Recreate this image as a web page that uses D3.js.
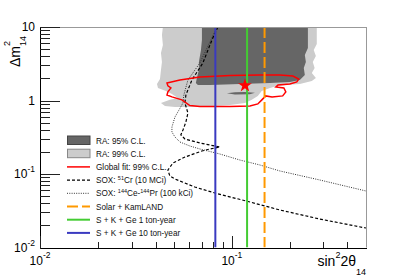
<!DOCTYPE html>
<html>
<head>
<meta charset="utf-8">
<script src="https://cdn.jsdelivr.net/npm/d3@7"></script>
<style>
body { margin: 0; background: #fff; }
svg { display: block; font-family: "Liberation Sans", Arial, sans-serif; }
</style>
</head>
<body>
<script>
// contours, points are [sin^2(2theta14), dm^2_14]
var ra99 = [[0.0437, 10], [0.277, 10], [0.277, 5.87], [0.267, 4.87], [0.274, 4.03], [0.264, 3.34],
    [0.27, 2.77], [0.261, 2.37], [0.274, 2.03], [0.261, 1.84], [0.226, 1.68], [0.189, 1.63],
    [0.1715, 1.58], [0.158, 1.48], [0.143, 1.35], [0.1365, 1.155], [0.127, 1.02], [0.117, 0.926],
    [0.0976, 0.87], [0.068, 0.818], [0.0505, 0.818], [0.0448, 0.84], [0.0427, 0.926], [0.0475, 1.02],
    [0.0523, 1.085], [0.0487, 1.23], [0.0453, 1.35], [0.0412, 1.48], [0.0407, 1.68], [0.0422, 1.96],
    [0.0427, 2.6], [0.0432, 3.34], [0.0427, 4.43], [0.0437, 5.69], [0.0432, 7.78]];
var ra95 = [[0.0698, 10], [0.249, 10], [0.249, 5.18], [0.240, 4.16], [0.243, 3.34], [0.237, 2.77],
    [0.240, 2.22], [0.226, 1.90], [0.2005, 1.79], [0.158, 1.73], [0.110, 1.68], [0.0768, 1.63],
    [0.0665, 1.63], [0.0649, 1.73], [0.0657, 2.03], [0.0673, 2.6], [0.0673, 3.34], [0.069, 4.87],
    [0.0698, 6.65]];
var ra95Island = [[0.0942, 1.257], [0.1037, 1.297], [0.1169, 1.31], [0.1318, 1.27], [0.1242, 1.214], [0.1037, 1.207]];
var globalFit99 = [[0.0459, 1.73], [0.0536, 1.90], [0.0681, 2.09], [0.0976, 2.19], [0.140, 2.22],
    [0.1778, 2.22], [0.208, 2.15], [0.223, 1.96], [0.218, 1.79], [0.2005, 1.68], [0.174, 1.63],
    [0.1695, 1.53], [0.1866, 1.48], [0.191, 1.31], [0.184, 1.155], [0.162, 1.12], [0.150, 1.155],
    [0.1433, 1.02], [0.1365, 0.898], [0.1242, 0.84], [0.0976, 0.83], [0.0681, 0.83], [0.0604, 0.855],
    [0.0549, 1.02], [0.0487, 1.12], [0.0459, 1.19], [0.0464, 1.31], [0.0481, 1.48], [0.0464, 1.58]];
var bestFit = [0.117, 1.6];
var soxCr = [[0.0845, 10], [0.0787, 6.65], [0.0706, 3.24], [0.0619, 1.90], [0.0576, 1.19], [0.0569, 0.926],
    [0.059, 0.676], [0.0576, 0.51], [0.0556, 0.397], [0.0542, 0.34], [0.0569, 0.2995], [0.0681, 0.264],
    [0.0866, 0.233], [0.0768, 0.219], [0.0698, 0.2056], [0.0569, 0.170], [0.0493, 0.141], [0.0464, 0.1133],
    [0.0475, 0.0939], [0.0505, 0.0855], [0.0641, 0.0665], [0.0816, 0.0551], [0.1242, 0.0416],
    [0.1778, 0.0324], [0.287, 0.0244], [0.5, 0.0184]];
var soxCePr = [[0.0836, 10], [0.0777, 6.65], [0.0681, 3.24], [0.059, 1.90], [0.0562, 1.19], [0.0556, 0.926],
    [0.0523, 0.698], [0.0505, 0.596], [0.0487, 0.436], [0.0487, 0.373], [0.0505, 0.319], [0.0536, 0.2725],
    [0.0604, 0.2404], [0.0681, 0.219], [0.0866, 0.187], [0.110, 0.155], [0.140, 0.1326], [0.1778, 0.11],
    [0.287, 0.0829], [0.5, 0.0587]];
var solarKamland = 0.148;
var skGe1 = 0.12;
var skGe10 = 0.082;

var xMajor = [0.01, 0.1];
var xMinor = [0.02, 0.03, 0.04, 0.05, 0.06, 0.07, 0.08, 0.09, 0.2, 0.3, 0.4];
var xLabels = [["10", "-2"], ["10", "-1"]];
var yMajor = [0.01, 0.1, 1, 10];
var yMinor = [0.02, 0.03, 0.04, 0.05, 0.06, 0.07, 0.08, 0.09, 0.2, 0.3, 0.4, 0.5, 0.6, 0.7, 0.8, 0.9,
    2, 3, 4, 5, 6, 7, 8, 9];
var yLabels = [["10", "-2"], ["10", "-1"], ["1", ""], ["10", ""]];

// legend text, pieces marked 1 are superscripts
var legendLabels = [
    [["RA: 95% C.L.", 0]],
    [["RA: 99% C.L.", 0]],
    [["Global fit: 99% C.L.", 0]],
    [["SOX: ", 0], ["51", 1], ["Cr (10 MCi)", 0]],
    [["SOX: ", 0], ["144", 1], ["Ce-", 0], ["144", 1], ["Pr (100 kCi)", 0]],
    [["Solar + KamLAND", 0]],
    [["S + K + Ge 1 ton-year", 0]],
    [["S + K + Ge 10 ton-year", 0]]
];

var width = 407, height = 276;
var margin = {left: 40, right: 41, top: 27, bottom: 28.5};

var x = d3.scaleLog().domain([0.01, 0.5]).range([margin.left, width - margin.right]);
var y = d3.scaleLog().domain([0.01, 10]).range([height - margin.bottom, margin.top]);

var svg = d3.select('body').append('svg').attr('width', width).attr('height', height);

svg.append('clipPath').attr('id', 'plot')
    .append('rect')
    .attr('x', margin.left).attr('y', margin.top)
    .attr('width', width - margin.left - margin.right)
    .attr('height', height - margin.top - margin.bottom);

var line = d3.line().x(function(d) { return x(d[0]); }).y(function(d) { return y(d[1]); });
var plot = svg.append('g').attr('clip-path', 'url(#plot)');

plot.append('path').attr('d', line(ra99) + 'Z').attr('fill', '#cccccc');
plot.append('path').attr('d', line(ra95) + 'Z').attr('fill', '#666666');
plot.append('path').attr('d', line(ra95Island) + 'Z').attr('fill', '#666666');

plot.append('path').attr('d', line(soxCePr)).attr('fill', 'none')
    .attr('stroke', '#333').attr('stroke-width', 1).attr('stroke-dasharray', '1,1.3');
plot.append('path').attr('d', line(soxCr)).attr('fill', 'none')
    .attr('stroke', '#000').attr('stroke-width', 1.2).attr('stroke-dasharray', '3,2');

plot.append('path').attr('d', line(globalFit99) + 'Z').attr('fill', 'none')
    .attr('stroke', '#ff0000').attr('stroke-width', 1.5);

var vlines = [
    {v: solarKamland, color: '#ff9900', dash: '11,4'},
    {v: skGe1, color: '#44cc33', dash: null},
    {v: skGe10, color: '#3a3ac0', dash: null}
];
plot.selectAll('.vline').data(vlines).enter().append('line')
    .attr('x1', function(d) { return x(d.v); }).attr('x2', function(d) { return x(d.v); })
    .attr('y1', y(10)).attr('y2', y(0.01))
    .attr('stroke', function(d) { return d.color; })
    .attr('stroke-width', 2)
    .attr('stroke-dasharray', function(d) { return d.dash; });

plot.append('path')
    .attr('transform', 'translate(' + x(bestFit[0]) + ',' + y(bestFit[1]) + ')')
    .attr('d', d3.symbol().type(d3.symbolStar).size(60)())
    .attr('fill', '#ff0000');

// frame
svg.append('line').attr('x1', margin.left).attr('x2', width - margin.right)
    .attr('y1', margin.top + 0.5).attr('y2', margin.top + 0.5).attr('stroke', '#999');
svg.append('line').attr('x1', width - margin.right + 0.5).attr('x2', width - margin.right + 0.5)
    .attr('y1', margin.top).attr('y2', height - margin.bottom).attr('stroke', '#999');

// axes, ticks pointing inwards
function axisStyle(g) {
    g.attr('shape-rendering', 'crispEdges');
    g.selectAll('.tick line').attr('stroke', '#222');
    g.select('.domain').attr('stroke', '#000');
}
svg.append('g').attr('transform', 'translate(' + margin.left + ',0)')
    .call(d3.axisRight(y).tickValues(yMajor).tickSize(20).tickSizeOuter(0).tickFormat(''))
    .call(axisStyle);
svg.append('g').attr('transform', 'translate(' + margin.left + ',0)')
    .call(d3.axisRight(y).tickValues(yMinor).tickSize(10).tickSizeOuter(0).tickFormat(''))
    .call(axisStyle);
svg.append('g').attr('transform', 'translate(0,' + (height - margin.bottom) + ')')
    .call(d3.axisTop(x).tickValues(xMajor).tickSize(12).tickSizeOuter(0).tickFormat(''))
    .call(axisStyle);
svg.append('g').attr('transform', 'translate(0,' + (height - margin.bottom) + ')')
    .call(d3.axisTop(x).tickValues(xMinor).tickSize(6).tickSizeOuter(0).tickFormat(''))
    .call(axisStyle);

// tick labels
yMajor.forEach(function(v, i) {
    var t = svg.append('text').attr('x', 35).attr('y', y(v) + 4.3)
        .attr('text-anchor', 'end').attr('font-size', 12);
    t.append('tspan').text(yLabels[i][0]);
    if (yLabels[i][1]) t.append('tspan').attr('dy', -6).attr('font-size', 8.5).text(yLabels[i][1]);
});
xMajor.forEach(function(v, i) {
    var t = svg.append('text').attr('x', x(v)).attr('y', 264.5)
        .attr('text-anchor', 'middle').attr('font-size', 12);
    t.append('tspan').text(xLabels[i][0]);
    t.append('tspan').attr('dy', -7).attr('font-size', 8.5).text(xLabels[i][1]);
});

// axis titles
var xt = svg.append('text').attr('x', width - margin.right).attr('y', 266)
    .attr('text-anchor', 'end').attr('font-size', 14);
xt.append('tspan').text('sin');
xt.append('tspan').attr('dy', -8).attr('font-size', 9).text('2');
xt.append('tspan').attr('dy', 8).text('2\u03b8');
xt.append('tspan').attr('dy', 9).attr('font-size', 9).text('14');

var yt = svg.append('text').attr('transform', 'translate(20,36) rotate(-90)')
    .attr('text-anchor', 'end').attr('font-size', 14);
yt.append('tspan').text('\u0394m');
yt.append('tspan').attr('dy', -10).attr('font-size', 9).text('2');
yt.append('tspan').attr('dy', 16).attr('dx', -5).attr('font-size', 9).text('14');

// legend
var legendStyles = [
    {kind: 'box', fill: '#666666', stroke: '#444'},
    {kind: 'box', fill: '#cccccc', stroke: '#888'},
    {kind: 'line', stroke: '#ff0000', width: 1.5, dash: null},
    {kind: 'line', stroke: '#000', width: 1.2, dash: '3,2'},
    {kind: 'line', stroke: '#333', width: 1, dash: '1,1.3'},
    {kind: 'line', stroke: '#ff9900', width: 2, dash: '11,4'},
    {kind: 'line', stroke: '#44cc33', width: 2, dash: null},
    {kind: 'line', stroke: '#3a3ac0', width: 2, dash: null}
];
var legend = svg.append('g');
legendLabels.forEach(function(parts, i) {
    var cy = 140.5 + i * 13.2;
    var st = legendStyles[i];
    if (st.kind === 'box') {
        legend.append('rect').attr('x', 67.5).attr('y', cy - 4.5).attr('width', 22.5).attr('height', 8.5)
            .attr('fill', st.fill).attr('stroke', st.stroke).attr('stroke-width', 1);
    } else {
        legend.append('line').attr('x1', 67).attr('x2', 90).attr('y1', cy).attr('y2', cy)
            .attr('stroke', st.stroke).attr('stroke-width', st.width).attr('stroke-dasharray', st.dash);
    }
    var t = legend.append('text').attr('x', 96).attr('y', cy + 3).attr('font-size', 8.2).attr('fill', '#111');
    var up = false;
    parts.forEach(function(p) {
        var s = t.append('tspan').text(p[0]);
        if (p[1] && !up) { s.attr('dy', -3.5).attr('font-size', 5.5); up = true; }
        else if (p[1]) { s.attr('font-size', 5.5); }
        else if (up) { s.attr('dy', 3.5); up = false; }
    });
});
</script>
</body>
</html>
